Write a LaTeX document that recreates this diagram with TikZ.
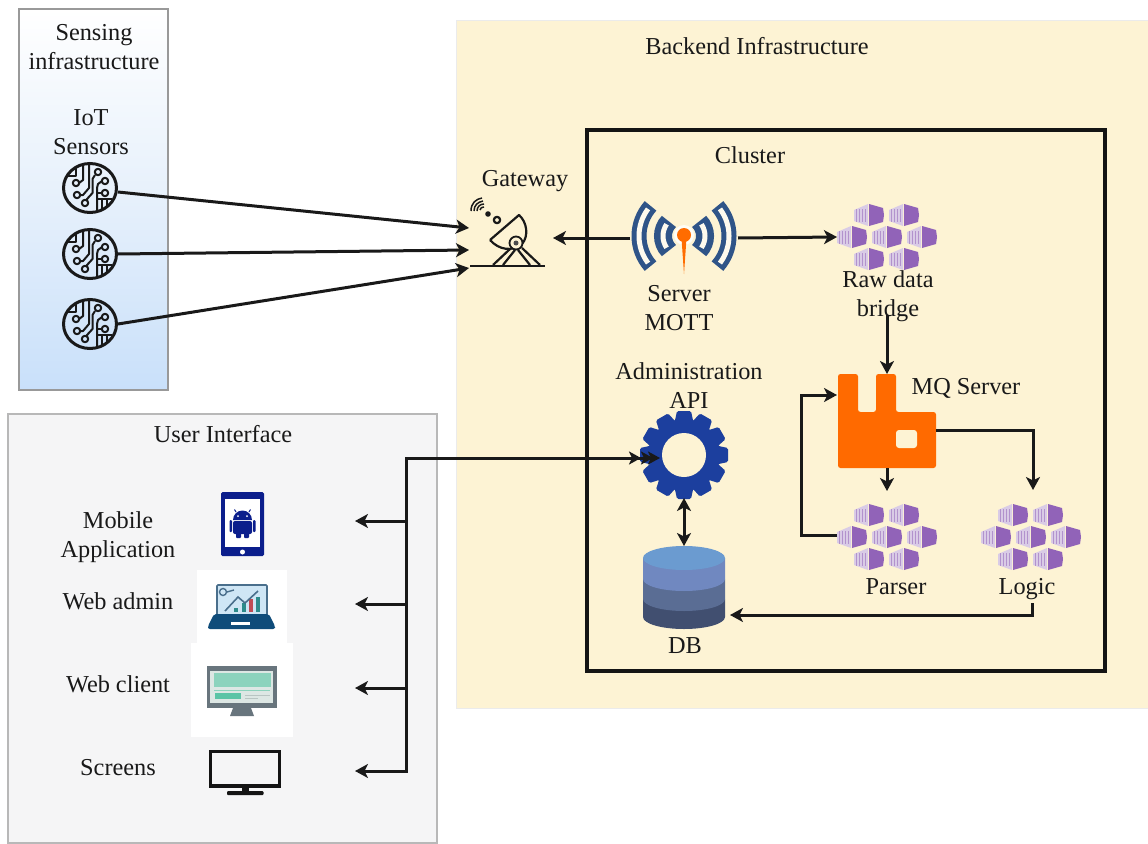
\documentclass[tikz,border=0pt]{standalone}
\usepackage{fontspec}
\setmainfont{Liberation Serif}
\usetikzlibrary{arrows.meta,calc}
\definecolor{backendc}{HTML}{FDF3D4}
\definecolor{uic}{HTML}{F5F5F6}
\definecolor{kubep}{HTML}{9163B8}
\definecolor{kubel}{HTML}{D9CBE6}
\definecolor{rabbit}{HTML}{FF6A00}
\definecolor{mottb}{HTML}{2F5488}
\definecolor{gearb}{HTML}{1C3F9E}
\definecolor{dbA}{HTML}{414F70}
\definecolor{dbB}{HTML}{5A6D94}
\definecolor{dbC}{HTML}{7088C0}
\definecolor{dbD}{HTML}{6B9BD0}
\definecolor{lapA}{HTML}{4A6F8C}
\definecolor{lapB}{HTML}{0F4C7A}
\definecolor{lapC}{HTML}{CFE6F5}
\definecolor{teal}{HTML}{2E8B8B}
\definecolor{redd}{HTML}{C04C54}
\definecolor{monA}{HTML}{68757D}
\definecolor{monB}{HTML}{DDE7E4}
\definecolor{monC}{HTML}{8CD3BD}
\definecolor{monD}{HTML}{5BC4A6}
\definecolor{monE}{HTML}{B9C5C3}
\definecolor{phoneb}{HTML}{0B1E8C}
\definecolor{sensA}{HTML}{C9E0FA}
\definecolor{sensB}{HTML}{E6F0FB}
\tikzset{
  x=1pt,y=-1pt,
  lbl/.style={font=\fontsize{24.3}{29}\selectfont,align=center,inner sep=0pt,text=black!90},
  anchorbox/.style={inner sep=0pt,outer sep=0pt,minimum width=#1},
  conn/.style={draw=black!90,line width=3pt,-{Stealth[length=13pt,width=14pt,inset=3.5pt]}},
  connb/.style={draw=black!90,line width=3pt,{Stealth[length=13pt,width=14pt,inset=3.5pt]}-{Stealth[length=13pt,width=14pt,inset=3.5pt]}},
  plain/.style={draw=black!90,line width=3pt},
  trace/.style={draw=black!90,line width=2pt,line join=round},
  pics/chip/.style={code={
    \draw[draw=black!90,line width=3pt] (0,0) ellipse[x radius=26.5,y radius=24.5];
    \draw[trace] (-14,-20)--(-14,-12)--(-23,-12);
    \draw[trace] (-7,-23)--(-7,-8)--(-11,-5);
    \draw[trace] (-14,-5) circle (3.2);
    \draw[trace] (-1,-24)--(-1,0)--(-7,7)--(-10,7);
    \draw[trace] (-13,7) circle (3.2);
    \draw[trace] (5,-13)--(2.5,-9)--(2.5,5)--(-3,11)--(-3,13);
    \draw[trace] (8,-16) circle (3.2);
    \draw[trace] (-5,15) circle (3.2);
    \draw[trace] (12,-7)--(8,-4)--(7,0)--(7,23);
    \draw[trace] (15,-7) circle (3.2);
    \draw[trace] (12,5)--(7,5);
    \draw[trace] (15,5) circle (3.2);
    \draw[trace] (7,11)--(22,11);
    \draw[trace] (12,11)--(12,21);
    \draw[trace] (17,11)--(17,18);
  }},
  pics/kubeone/.style={code={
    \fill[kubel] (-15,-5)--(-1,-11)--(-1,11)--(-15,6)--cycle;
    \foreach \q in {-13,-10,-7,-4}{\draw[kubep!70!white,line width=0.7pt] (\q,-6)--(\q,7);}
    \fill[kubep] (0,-11)--(14,-7)--(15,0)--(14,7)--(0,11)--cycle;
  }},
  pics/kube/.style={code={
    \foreach \p/\r in {-18/-22,17/-22,-35/0,0/0,35/0,-18/22,17/22}{
      \pic at (\p,\r) {kubeone};
    }
  }},
}
\begin{document}
\begin{tikzpicture}
\useasboundingbox (0,0) rectangle (1148,843);
% panels
\node[anchorbox=149pt,minimum height=381pt,draw=black!40,line width=1.6pt,top color=white,bottom color=sensA,middle color=sensB] (sensing) at (93.5,199.5) {};
\node[anchorbox=692pt,minimum height=688pt,fill=backendc,draw=black!8,line width=0.6pt] (backend) at (802,364) {};
\node[anchorbox=429pt,minimum height=429pt,fill=uic,draw=black!28,line width=1.4pt] (ui) at (222.5,628.5) {};
\node[anchorbox=518pt,minimum height=541pt,draw=black!92,line width=4pt] (cluster) at (846,400.5) {};
\fill[white] (197,570) rectangle (287,643);
\fill[white] (191,643) rectangle (293,737);

% sensors
\foreach \n/\yy in {s1/188,s2/254,s3/324}{
  \node[anchorbox=56pt,minimum height=56pt,circle] (\n) at (90,\yy) {};
  \pic at (90,\yy) {chip};
}
% gateway
\node[anchorbox=76pt,minimum height=70pt] (gw) at (507,232) {};
\coordinate (gw1) at (469,228);
\coordinate (gw2) at (469,250);
\coordinate (gw3) at (469,268);
\begin{scope}[draw=black!90,line width=2.2pt,line join=round]
  \draw[line width=2.4pt] (470,266)--(545,266);
  \draw (490,240)--(519,215) .. controls (527,222) and (529,236) .. (522,244) .. controls (512,252) and (499,250) .. (490,240);
  \draw (510,249)--(493,265) (515,250)--(503,265);
  \draw (522,248)--(540,265) (518,250)--(530,265);
  \draw[line width=1.8pt,fill=backendc] (516,243) circle (6.5);
  \fill[black!70] (516,243) circle (2.5);
  \draw (497,220) circle (3.2);
  \fill[black!90] (488,214) circle (2.8);
  \draw[line width=1.5pt] (471,211) .. controls (471,203) and (476,199) .. (482,198);
  \draw[line width=1.5pt] (474,211) .. controls (474,205) and (478,202) .. (483,201);
  \draw[line width=1.5pt] (477,211) .. controls (477,207) and (480,204) .. (484,204);
  \draw[line width=1.5pt] (480,210) .. controls (480,208) and (482,207) .. (484,207);
\end{scope}
% MOTT
\node[anchorbox=108pt,minimum height=70pt] (mott) at (684,235) {};
\begin{scope}[line cap=butt]
  \foreach \a in {180,0}{
    \draw[mottb,line width=15pt] ($(684,236)+(\a-42:45)$) arc[start angle=\a-42,end angle=\a+42,radius=45];
    \draw[backendc!40!white,line width=5pt] ($(684,236)+(\a-37:45)$) arc[start angle=\a-37,end angle=\a+37,radius=45];
    \draw[mottb,line width=18pt] ($(684,236)+(\a-44:21)$) arc[start angle=\a-44,end angle=\a+44,radius=21];
    \draw[backendc!40!white,line width=5pt] ($(684,236)+(\a-34:21)$) arc[start angle=\a-34,end angle=\a+34,radius=21];
  }
\end{scope}
\fill[white!80!backendc] (684,235) circle (10);
\fill[orange!85!red] (684,235) circle (7);
\fill[orange!85!red] (681.5,238)--(686.5,238)--(684,274)--cycle;
% raw data bridge, parser, logic
\node[anchorbox=100pt,minimum height=66pt] (raw) at (887,237) {};
\pic at (887,237) {kube};
\node[anchorbox=100pt,minimum height=66pt] (parser) at (887,537) {};
\pic at (887,537) {kube};
\node[anchorbox=100pt,minimum height=66pt] (logic) at (1031,537) {};
\pic at (1031,537) {kube};
% rabbit
\node[anchorbox=99pt,minimum height=94pt] (mq) at (887,421) {};
\fill[rabbit,rounded corners=2.5pt]
  (838,374)--(858,374)--(858,412)--(876,412)--(876,374)--(896,374)--(896,412)--(936,412)--(936,468)--(838,468)--cycle;
\fill[backendc,rounded corners=3pt] (896,430) rectangle (917,448);
% gear
\node[anchorbox=88pt,minimum height=88pt,circle] (gear) at (684,455) {};
\foreach \a in {0,30,...,330}{
  \fill[gearb,rotate around={\a:(684,455)},rounded corners=1.5pt] (677,411)--(691,411)--(694,425)--(674,425)--cycle;
}
\fill[gearb] (684,455) circle (36);
\fill[backendc] (684,455) circle (22);
% DB
\node[anchorbox=82pt,minimum height=84pt] (db) at (684,588) {};
\fill[dbA] (643,617) arc[start angle=180,end angle=0,x radius=41,y radius=12]--(725,599)--(643,599)--cycle;
\fill[dbB] (643,599) arc[start angle=180,end angle=0,x radius=41,y radius=12]--(725,579)--(643,579)--cycle;
\fill[dbC] (643,579) arc[start angle=180,end angle=0,x radius=41,y radius=12]--(725,558)--(643,558)--cycle;
\fill[dbD] (684,558) ellipse[x radius=41,y radius=12];
% phone
\node[anchorbox=43pt,minimum height=64pt] (phone) at (242.5,524) {};
\fill[phoneb,rounded corners=1.5pt] (221,492) rectangle (264,556);
\fill[white] (225,499) rectangle (260,547);
\fill[white] (242.5,552) circle (2.5);
\fill[phoneb,rounded corners=2pt] (233,521) rectangle (252,534);
\fill[phoneb] (233,520) arc[start angle=180,end angle=360,radius=9.5]--cycle;
\draw[phoneb,line width=1pt] (236,512)--(234.5,509.5) (249,512)--(250.5,509.5);
\fill[white] (238,516) circle (1) (247,516) circle (1);
\fill[phoneb,rounded corners=1pt] (229.5,520) rectangle (232,532) (253,520) rectangle (255.5,532) (236,533) rectangle (241,538) (244,533) rectangle (249,538);
% laptop
\node[anchorbox=67pt,minimum height=46pt] (laptop) at (241.5,607) {};
\draw[lapA,fill=lapC,line width=1.6pt,rounded corners=1pt] (217,585) rectangle (267,615);
\fill[lapB,rounded corners=2pt] (214,614)--(269,614)--(275,626)--(275,629)--(208,629)--(208,626)--cycle;
\fill[white] (231,622) rectangle (250,625);
\fill[teal] (234,608) rectangle (238,612);
\fill[teal] (242,603) rectangle (246,612);
\fill[redd] (249,599) rectangle (253,612);
\fill[teal] (256,597) rectangle (260,612);
\draw[lapA,line width=1.6pt] (225,611)--(238,597)--(245,603)--(258,591);
\draw[lapA,line width=1.4pt] (223,592) circle (3.5);
\draw[lapA,line width=1.4pt] (227,592)--(234,590);
% monitor
\node[anchorbox=70pt,minimum height=50pt] (monitor) at (242,691) {};
\fill[monA] (207,666) rectangle (277,708);
\fill[monA] (233,708)--(251,708)--(254,716)--(230,716)--cycle;
\fill[monB] (210,671) rectangle (273,703);
\fill[monC] (214,673) rectangle (271,687);
\fill[monD] (215,693) rectangle (241,699);
\draw[monC,line width=1pt] (214,690)--(270,690);
\draw[monE,line width=1pt] (245,695)--(270,695) (245,698)--(258,698);
% screen
\node[anchorbox=72pt,minimum height=45pt] (screen) at (245,772) {};
\draw[black!92,line width=3.4pt] (210.5,751.5) rectangle (279.5,786);
\fill[black!92] (242,786) rectangle (249,792);
\fill[black!92,rounded corners=1pt] (227,791) rectangle (263.5,795);

% labels
\node[lbl] (t1) at (94,47) {Sensing\\infrastructure};
\node[lbl] (t2) at (91,132) {IoT\\Sensors};
\node[lbl] (t3) at (525,181) {Gateway};
\node[lbl] (t4) at (757,46) {Backend Infrastructure};
\node[lbl] (t5) at (750,155) {Cluster};
\node[lbl] (t6) at (679,308) {Server\\MOTT};
\node[lbl] (t7) at (888,296) {Raw data\\bridge};
\node[lbl] (t8) at (689,386) {Administration\\API};
\node[lbl] (t9) at (966,388) {MQ Server};
\node[lbl] (t10) at (896,587) {Parser};
\node[lbl] (t11) at (1027,589) {Logic};
\node[lbl] (t12) at (685,646) {DB};
\node[lbl] (t13) at (223,434) {User Interface};
\node[lbl] (t14) at (118,537) {Mobile\\Application};
\node[lbl] (t15) at (118,601) {Web admin};
\node[lbl] (t16) at (118,684) {Web client};
\node[lbl] (t17) at (118,768) {Screens};

% connectors
\draw[conn] (s1.east) ++(0,4) -- (gw1);
\draw[conn] (s2.east) -- (gw2);
\draw[conn] (s3.east) -- (gw3);
\coordinate (gwport) at (553,238);
\draw[conn] (mott.west) ++(0,3) -- (gwport);
\draw[conn] (mott.east) ++(0,3) -- (raw.west);
\coordinate (rawout) at (887,315);
\draw[conn] (rawout) -- (mq.north);
\draw[conn] (mq.south) -- ($(parser.north)+(0,-13)$);
\coordinate (mqout) at (936,430);
\draw[conn,line join=miter] (mqout) -| ($(logic.north)+(2,-14)$);
\coordinate (mqin) at (837,395);
\draw[conn,line join=miter] (parser.west) ++(0,-2) -| (801,395) -- (mqin);
\coordinate (logout) at (1032,603);
\coordinate (dbin) at (730,615);
\draw[conn,line join=miter] (logout) |- (dbin);
\draw[connb] (gear.south) ++(0,-1) -- (db.north);
% bus
\coordinate (bustop) at (406,458);
\coordinate (busbot) at (406,771);
\coordinate (gearin) at (655,458);
\draw[plain,line cap=rect,line join=miter] (busbot) -- (bustop) -- (gearin);
\draw[draw=black!90,line width=3pt,-{Stealth[length=12pt,width=13pt,inset=3pt] Stealth[length=12pt,width=13pt,inset=3pt,sep=-5pt] Stealth[length=12pt,width=13pt,inset=3pt,sep=-5pt]}] (bustop) -- (gearin);
\coordinate (b1) at (406,521);
\coordinate (b2) at (406,604);
\coordinate (b3) at (406,688);
\coordinate (a1) at (355,521);
\coordinate (a2) at (355,604);
\coordinate (a3) at (355,688);
\coordinate (a4) at (355,771);
\draw[conn] (b1) -- (a1);
\draw[conn] (b2) -- (a2);
\draw[conn] (b3) -- (a3);
\draw[conn] (busbot) -- (a4);
\end{tikzpicture}
\end{document}
